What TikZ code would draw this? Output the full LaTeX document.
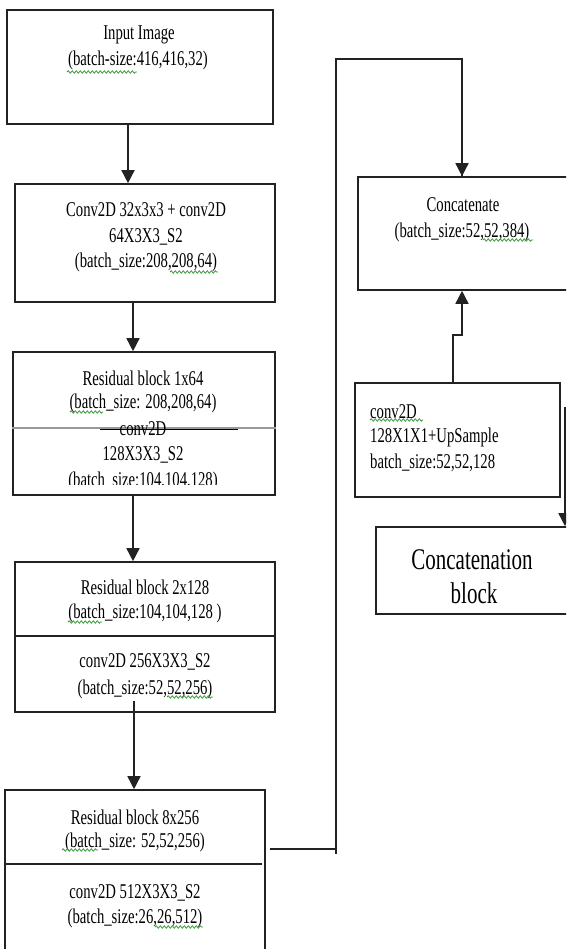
\documentclass[tikz,border=0pt]{standalone}
\usepackage{fontspec}
\setmainfont{Liberation Serif}[FakeStretch=0.7]
\usetikzlibrary{arrows.meta,decorations.pathmorphing}
\definecolor{linec}{HTML}{222222}
\definecolor{spellc}{HTML}{3C9A3C}
\tikzset{
  boxnode/.style={draw=linec,line width=1.6pt,rectangle,inner sep=0pt},
  txt/.style={inner sep=0pt,font=\fontsize{21}{25}\selectfont,text=black},
  bigtxt/.style={inner sep=0pt,font=\fontsize{30}{33}\selectfont,text=black},
  sepline/.style={draw=linec,line width=1.6pt},
  arr/.style={draw=linec,line width=1.5pt,-{Triangle[length=13pt,width=13pt]}},
  conn/.style={draw=linec,line width=1.5pt},
  spell/.style={draw=spellc,line width=0.8pt,decorate,decoration={snake,amplitude=1.2pt,segment length=4pt}}
}
\begin{document}
\begin{tikzpicture}[x=1pt,y=-1pt]
\useasboundingbox (0,0) rectangle (566,949);
\fill[white] (0,0) rectangle (566,949);
\clip (0,0) rectangle (566,949);
% boxes
\node[boxnode,minimum width=266pt,minimum height=114pt] (inp) at (140,67) {};
\node[boxnode,minimum width=260pt,minimum height=118pt] (conv) at (145,243) {};
\node[boxnode,minimum width=262pt,minimum height=143pt] (res1) at (144,423.5) {};
\node[boxnode,minimum width=260pt,minimum height=150pt] (res2) at (145,637) {};
\node[boxnode,minimum width=260pt,minimum height=170pt] (res8) at (135,875) {};
\node[boxnode,minimum width=262pt,minimum height=113pt] (cat) at (489,233.5) {};
\node[boxnode,minimum width=205pt,minimum height=114pt] (up) at (457.5,440) {};
\node[boxnode,minimum width=244pt,minimum height=87pt] (cblk) at (498,570.5) {};
% separators
\draw[line width=2.4pt,draw=gray!80] (res1.west |- 0,428) -- (res1.east |- 0,428);
\draw[line width=1pt,draw=black] (100,429) -- (238,429);
\draw[sepline] (res2.west |- 0,636) -- (res2.east |- 0,636);
\draw[sepline] (res8.west |- 0,864) -- (262,864);
% texts
\node[txt] (t1) at (139,35) {Input Image};
\node[txt] (t2) at (138,60) {(batch-size:416,416,32)};
\node[txt] (t3) at (146,210) {Conv2D 32x3x3 + conv2D};
\node[txt] (t4) at (146,237) {64X3X3\_S2};
\node[txt] (t5) at (146,262) {(batch\_size:208,208,64)};
\node[txt] (t6) at (143,378) {Residual block 1x64};
\node[txt] (t7) at (143,403) {(batch\_size: 208,208,64)};
\node[txt] (t8) at (143,429) {conv2D};
\node[txt] (t9) at (143,455) {128X3X3\_S2};
\begin{scope}
\clip (0,468) rectangle (300,484);
\node[txt] (t10) at (143,481) {(batch\_size:104,104,128)};
\end{scope}
\node[txt] (t11) at (145,587) {Residual block 2x128};
\node[txt] (t12) at (145,613) {(batch\_size:104,104,128 )};
\node[txt] (t13) at (145,662) {conv2D 256X3X3\_S2};
\node[txt] (t14) at (145,689) {(batch\_size:52,52,256)};
\node[txt] (t15) at (135,817) {Residual block 8x256};
\node[txt] (t16) at (135,842) {(batch\_size: 52,52,256)};
\node[txt] (t17) at (135,893) {conv2D 512X3X3\_S2};
\node[txt] (t18) at (135,918) {(batch\_size:26,26,512)};
\node[txt] (t19) at (463,205) {Concatenate};
\node[txt] (t20) at (462,232) {(batch\_size:52,52,384)};
\node[txt,anchor=west] (t21) at (370,412) {conv2D};
\node[txt,anchor=west] (t22) at (370,437) {128X1X1+UpSample};
\node[txt,anchor=west] (t23) at (370,463) {batch\_size:52,52,128};
\node[bigtxt] (t24) at (472,560) {Concatenation};
\node[bigtxt] (t25) at (474,593) {block};
% spell-check marks
\draw[spell] (67,72) -- (137,72);
\draw[spell] (170,272) -- (218,272);
\draw[spell] (70,412) -- (103,412);
\draw[spell] (68,622) -- (102,622);
\draw[spell] (167,697) -- (213,697);
\draw[spell] (62,850) -- (98,850);
\draw[spell] (155,927) -- (203,927);
\draw[spell] (483,240) -- (533,240);
\draw[spell] (370,420) -- (423,420);
% connectors
\draw[arr] ([xshift=-12pt]inp.south) -- ([xshift=-12pt]inp.south |- conv.north);
\draw[arr] ([xshift=-12pt]conv.south) -- ([xshift=-12pt]conv.south |- res1.north);
\draw[arr] ([xshift=-11pt]res1.south) -- ([xshift=-11pt]res1.south |- res2.north);
\coordinate (r2out) at ([xshift=-11pt,yshift=12pt]res2.south);
\draw[arr] (r2out) -- (r2out |- res8.north);
\coordinate (r8out) at (270,849);
\coordinate (c1) at (336,849);
\coordinate (c2) at (336,59);
\draw[conn] (r8out) -- (c1);
\draw[conn] (336,854) -- (c2) -- (462,59) -- (462,59 |- cat.north);
\draw[arr] (462,59 |- cat.north) ++(0,-1) -- ++(0,1);
\draw[conn] (up.north -| 453,0) -- (453,335) -- (462,335);
\draw[arr] (462,336) -- (462,0 |- cat.south);
\coordinate (rs) at (565,407);
\draw[arr] (rs) -- (rs |- cblk.north);
\end{tikzpicture}
\end{document}
